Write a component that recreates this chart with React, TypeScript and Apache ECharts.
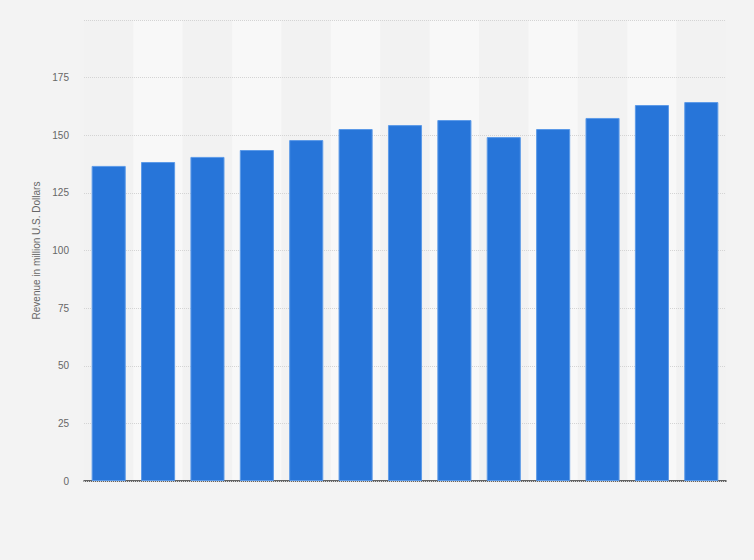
import { useEffect, useRef } from 'react';
import * as echarts from 'echarts';

// categories are not labelled in the picture, kept only for the axis
const categories = ['2008', '2009', '2010', '2011', '2012', '2013', '2014', '2015', '2016', '2017', '2018', '2019', '2020'];
const revenue = [136.7, 138.4, 140.6, 143.6, 147.9, 152.7, 154.4, 156.6, 149.2, 152.7, 157.5, 163.1, 164.4];
const yTitle = 'Revenue in million U.S. Dollars';

const App = () => {
  const chartRef = useRef<HTMLDivElement>(null);

  useEffect(() => {
    if (!chartRef.current) return;
    document.body.style.margin = '0';
    document.body.style.background = '#f3f3f3';
    const chart = echarts.init(chartRef.current, null, { renderer: 'svg' });

    const option = {
      animation: false,
      backgroundColor: '#f3f3f3',
      textStyle: { fontFamily: 'Liberation Sans, Arial, sans-serif' },
      grid: { left: 84, right: 28, top: 20, bottom: 79 },
      xAxis: {
        type: 'category',
        data: categories,
        z: 0,
        axisLine: { show: true, lineStyle: { color: '#333', width: 1.5 } },
        axisTick: { show: false },
        axisLabel: { show: false },
        splitArea: { show: true, areaStyle: { color: ['#f2f2f2', '#f8f8f8'] } },
      },
      yAxis: {
        type: 'value',
        min: 0,
        max: 200,
        interval: 25,
        z: 1,
        name: yTitle,
        nameLocation: 'middle',
        nameGap: 36,
        nameTextStyle: { color: '#666', fontSize: 10 },
        axisLine: { show: false },
        axisTick: { show: false },
        axisLabel: {
          color: '#666',
          fontSize: 10,
          margin: 15,
          formatter: (v: number) => (v === 200 ? '' : String(v)),
        },
        splitLine: { lineStyle: { color: '#d4d4d4', type: 'dotted' } },
      },
      series: [
        {
          type: 'bar',
          data: revenue,
          barWidth: '69%',
          z: 2,
          itemStyle: { color: '#2775d9', borderColor: '#5c9ae8', borderWidth: 1 },
        },
      ],
    };

    chart.setOption(option);
    return () => chart.dispose();
  }, []);

  return <div ref={chartRef} style={{ width: 754, height: 560 }}></div>;
};

export default App;
